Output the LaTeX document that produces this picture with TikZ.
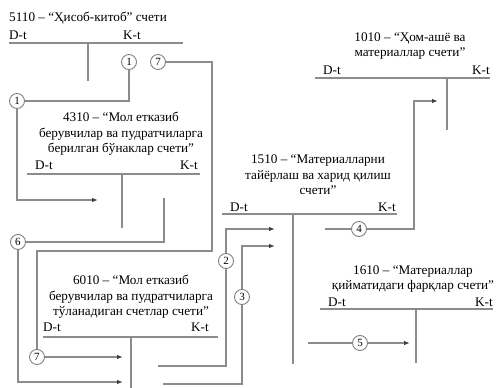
\documentclass[tikz,border=0pt]{standalone}
\usepackage{fontspec}
\setmainfont{Liberation Serif}
\usepackage{tikz}
\usetikzlibrary{arrows.meta}

\begin{document}
\begin{tikzpicture}[x=1pt,y=-1pt,>={Latex[length=6pt,width=4.5pt,color=black!75]},
  tl/.style={line width=1.1pt,black!45},
  ln/.style={line width=1.1pt,black!45},
  arr/.style={ln,->},
  ttl/.style={align=center,inner sep=0pt,font=\fontsize{13.2}{15.5}\selectfont},
  dk/.style={inner sep=0pt,font=\fontsize{13.2}{15.5}\selectfont},
  num/.style={circle,draw=black!50,line width=0.9pt,minimum size=15pt,inner sep=0pt,font=\fontsize{11}{11}\selectfont}]
  \useasboundingbox (0,0) rectangle (499,388);

  % 5110
  \node[dk,anchor=west] (t5110) at (9,18) {5110 – “Ҳисоб-китоб” счети};
  \node[dk,anchor=west] (d5110) at (9,35) {D-t};
  \node[dk,anchor=east] (k5110) at (141,35) {K-t};
  \draw[tl] (9,43) -- (183,43);
  \draw[tl] (88,43) -- (88,81);

  % 4310
  \node[ttl] (t4310) at (121,134) {4310 – “Мол етказиб\\берувчилар ва пудратчиларга\\берилган бўнаклар счети”};
  \node[dk,anchor=west] (d4310) at (35,165) {D-t};
  \node[dk,anchor=east] (k4310) at (198,165) {K-t};
  \draw[tl] (27,174) -- (200,174);
  \draw[tl] (122,174) -- (122,228);

  % 1010
  \node[ttl] (t1010) at (410,46) {1010 – “Ҳом-ашё ва\\материаллар счети”};
  \node[dk,anchor=west] (d1010) at (323,70) {D-t};
  \node[dk,anchor=east] (k1010) at (490,70) {K-t};
  \draw[tl] (315,78) -- (490,78);
  \draw[tl] (447,78) -- (447,130);

  % 1510
  \node[ttl] (t1510) at (318,175) {1510 – “Материалларни\\тайёрлаш ва харид қилиш\\счети”};
  \node[dk,anchor=west] (d1510) at (230,207) {D-t};
  \node[dk,anchor=east] (k1510) at (396,207) {K-t};
  \draw[tl] (222,214) -- (397,214);
  \draw[tl] (293,214) -- (293,364);

  % 6010
  \node[ttl] (t6010) at (131,297) {6010 – “Мол етказиб\\берувчилар ва пудратчиларга\\тўланадиган счетлар счети”};
  \node[dk,anchor=west] (d6010) at (43,327) {D-t};
  \node[dk,anchor=east] (k6010) at (209,327) {K-t};
  \draw[tl] (43,337) -- (218,337);
  \draw[tl] (131,337) -- (131,388);

  % 1610
  \node[ttl] (t1610) at (413,279) {1610 – “Материаллар\\қийматидаги фарқлар счети”};
  \node[dk,anchor=west] (d1610) at (328,302) {D-t};
  \node[dk,anchor=east] (k1610) at (493,302) {K-t};
  \draw[tl] (320,309) -- (493,309);
  \draw[tl] (416,309) -- (416,363);

  % numbered entries
  \node[num] (c1a) at (129,62) {1};
  \node[num] (c7a) at (158,62) {7};
  \node[num] (c1b) at (17,101) {1};
  \node[num] (c6) at (18,242) {6};
  \node[num] (c7b) at (37,357) {7};
  \node[num] (c2) at (226,261) {2};
  \node[num] (c3) at (242,297) {3};
  \node[num] (c4) at (359,229) {4};
  \node[num] (c5) at (360,343) {5};

  \coordinate (a1) at (98,200);
  \coordinate (s6) at (164,198);
  \coordinate (a6) at (123,382);
  \coordinate (k7) at (212,251);
  \coordinate (a7) at (123,357);
  \coordinate (s2) at (158,366);
  \coordinate (a2) at (275,229);
  \coordinate (s3) at (163,384);
  \coordinate (a3) at (275,246);
  \coordinate (s4) at (325,229);
  \coordinate (k4) at (414,229);
  \coordinate (a4) at (438,101);
  \coordinate (s5) at (308,343);
  \coordinate (a5) at (410,343);

  \draw[ln] (c1a) |- (c1b);
  \draw[arr] (c1b) |- (a1);
  \draw[ln] (s6) |- (c6);
  \draw[arr] (c6) |- (a6);
  \draw[ln] (c7a) -| (k7) -| (c7b);
  \draw[arr] (c7b) -- (a7);
  \draw[ln] (s2) -| (c2);
  \draw[arr] (c2) |- (a2);
  \draw[ln] (s3) -| (c3);
  \draw[arr] (c3) |- (a3);
  \draw[ln] (s4) -- (c4);
  \draw[arr] (c4) -- (k4) |- (a4);
  \draw[ln] (s5) -- (c5);
  \draw[arr] (c5) -- (a5);
\end{tikzpicture}
\end{document}
